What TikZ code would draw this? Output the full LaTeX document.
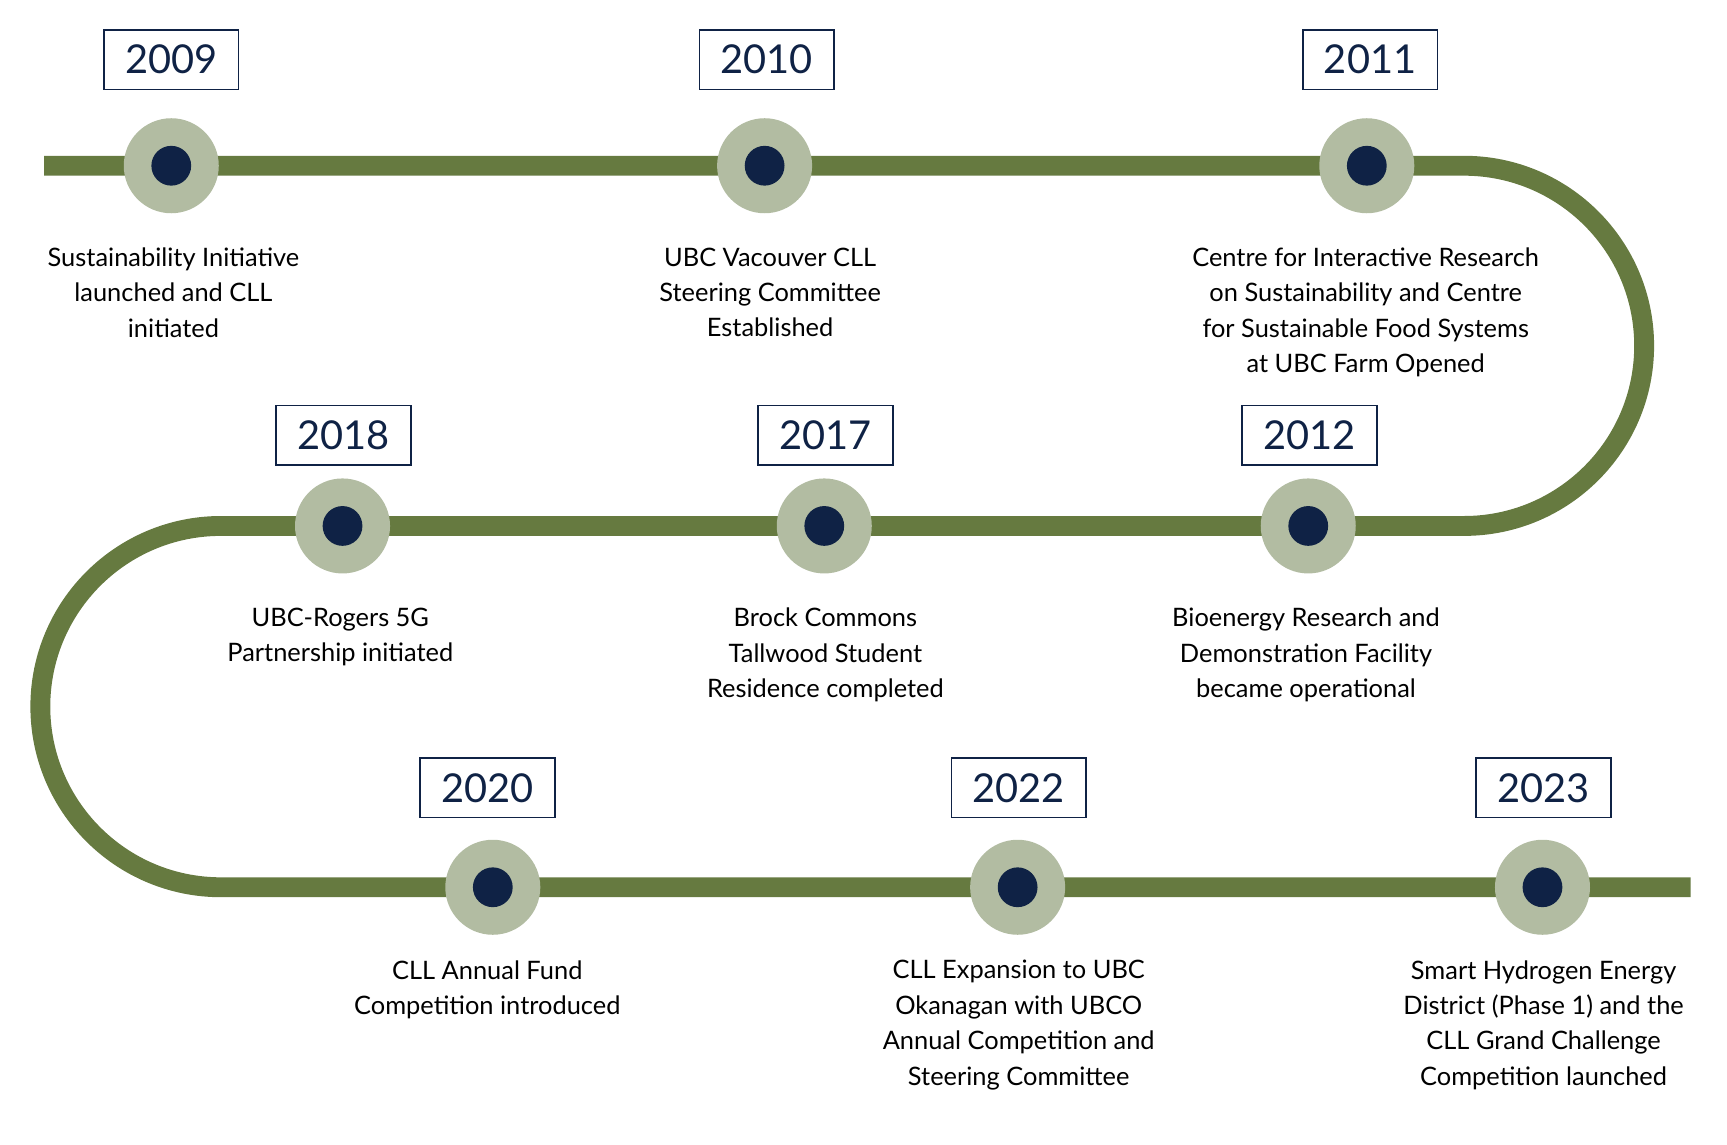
\documentclass[tikz,border=0pt]{standalone}
\usepackage{fontspec}
\setmainfont{Lato}
\definecolor{track}{HTML}{667A40}
\definecolor{halo}{HTML}{B2BCA2}
\definecolor{navy}{HTML}{0F2245}
\begin{document}
\begin{tikzpicture}[x=1pt,y=-1pt,
  yearbox/.style={draw=navy,line width=1.5pt,text=navy,minimum width=122pt,minimum height=54pt,inner sep=0pt,font=\fontsize{36}{40}\selectfont},
  desc/.style={align=center,anchor=north,text=black,font=\fontsize{23}{32}\selectfont,inner sep=0pt},
  halo/.style={circle,fill=halo,minimum size=86pt,inner sep=0pt},
  dot/.style={circle,fill=navy,minimum size=36pt,inner sep=0pt}]
\useasboundingbox (0,0) rectangle (1563,1036);
\draw[track,line width=18pt] (40,150) -- (1325,150) arc[start angle=-90,end angle=90,radius=163] -- (200,476) arc[start angle=-90,end angle=-270,radius=163.5] -- (1530,803);
\foreach \n/\x/\y/\bx/\dy/\t in {
 a/155/150/157/74/{Sustainability Initiative\\launched and CLL\\initiated},
 b/692/150/697/74/{UBC Vacouver CLL\\Steering Committee\\Established},
 c/1237/150/1236/74/{Centre for Interactive Research\\on Sustainability and Centre\\for Sustainable Food Systems\\at UBC Farm Opened},
 d/310/476/308/74/{UBC-Rogers 5G\\Partnership initiated},
 e/746/476/747/74/{Brock Commons\\Tallwood Student\\Residence completed},
 f/1184/476/1182/74/{Bioenergy Research and\\Demonstration Facility\\became operational},
 g/446/803/441/66/{CLL Annual Fund\\Competition introduced},
 h/921/803/922/66/{CLL Expansion to UBC\\Okanagan with UBCO\\Annual Competition and\\Steering Committee},
 i/1396/803/1397/66/{Smart Hydrogen Energy\\District (Phase 1) and the\\CLL Grand Challenge\\Competition launched}}{
  \node[halo] (h\n) at (\x,\y) {};
  \node[dot] (d\n) at (\x,\y) {};
  \node[desc] (t\n) at (\bx,\y+\dy) {\t};
}
\node[yearbox] (ya) at (155,54) {2009};
\node[yearbox] (yb) at (694,54) {2010};
\node[yearbox] (yc) at (1240,54) {2011};
\node[yearbox] (yd) at (311,394) {2018};
\node[yearbox] (ye) at (747,394) {2017};
\node[yearbox] (yf) at (1185,394) {2012};
\node[yearbox] (yg) at (441,713) {2020};
\node[yearbox] (yh) at (922,713) {2022};
\node[yearbox] (yi) at (1397,713) {2023};
\end{tikzpicture}
\end{document}
